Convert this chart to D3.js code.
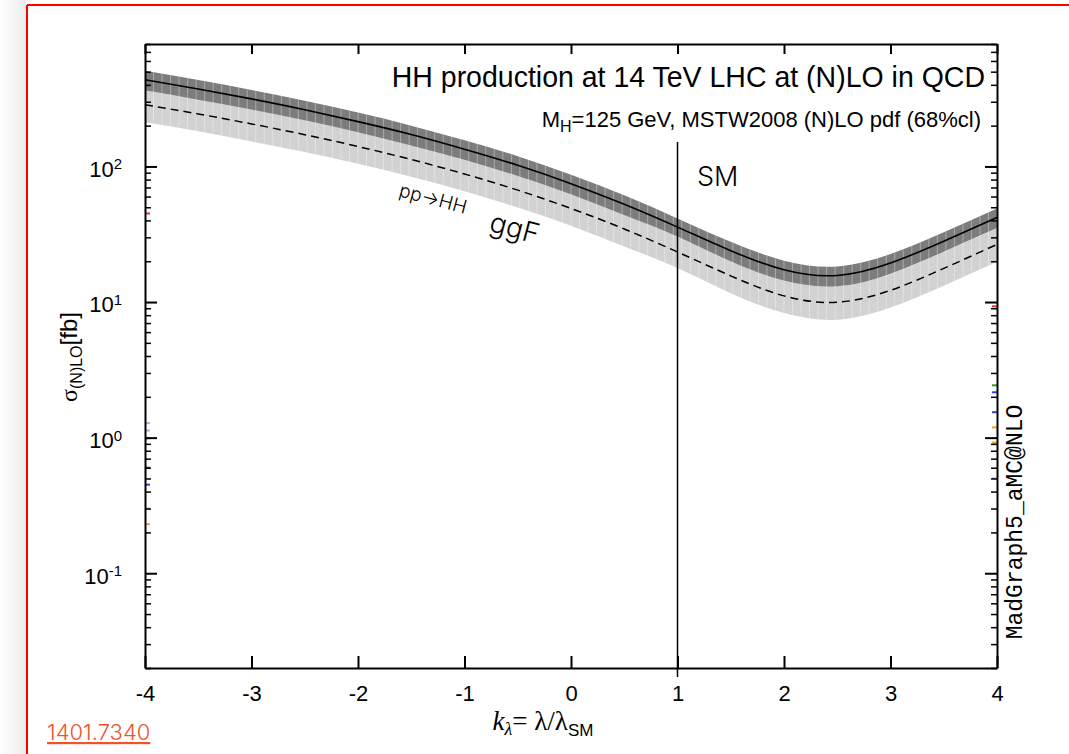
<!DOCTYPE html>
<html>
<head>
<meta charset="utf-8">
<script src="https://cdn.jsdelivr.net/npm/d3@7"></script>
<style>
  body { margin: 0; background: #fff; }
  svg { display: block; }
  .axis path, .axis line { stroke: #000; }
  .axis text { font-family: "Liberation Sans", Arial, sans-serif; fill: #000; }
  .gothic { font-family: "Inter", "Noto Sans", sans-serif; font-weight: 300; }
</style>
</head>
<body>
<div id="chart"></div>
<script>
// kappa_lambda sample points
const kappa = [-4, -3.5, -3, -2.5, -2, -1.5, -1, -0.5, 0, 0.5, 1, 1.5, 2, 2.5, 3, 3.5, 4];

// NLO (solid line, dark band) in fb
const nloCentral = [436, 373, 315, 262, 214, 172, 134, 102, 74.7, 52.6, 35.7, 23.9, 17.3, 15.7, 19.4, 28.1, 42.0];
const nloUp      = [508, 434, 367, 305, 250, 200, 156, 119, 87.0, 61.3, 41.4, 27.8, 20.2, 18.3, 22.6, 32.7, 48.9];
const nloDown    = [364, 311, 263, 219, 179, 143, 112, 85.1, 62.4, 43.9, 30.5, 20.0, 14.4, 13.1, 16.2, 23.5, 35.1];

// LO (dashed line, light band) in fb
const loCentral = [285, 244, 206, 171.5, 140.3, 112.5, 88.0, 66.9, 49.0, 34.6, 23.4, 15.6, 11.1, 9.97, 12.2, 17.7, 26.6];
const loUp      = [376, 322, 272, 226, 185, 148.5, 116, 88.0, 64.7, 45.6, 30.9, 20.6, 14.7, 13.2, 16.1, 23.4, 35.0];
const loDown    = [212, 182, 153, 128, 104.5, 83.8, 65.6, 49.8, 36.5, 25.7, 17.8, 11.6, 8.3, 7.4, 9.1, 13.2, 19.8];

// clipped pieces of other curves showing at the frame edges
const edgeSide  = ["L", "L", "L", "L", "L", "L", "L", "L", "R", "R", "R", "R", "R", "R", "R"];
const edgeValue = [45, 1.28, 1.13, 0.99, 0.60, 0.45, 0.30, 0.23, 9.3, 2.43, 2.16, 1.54, 1.19, 0.92, 0.50];
const edgeColor = ["#e33", "#c8a0e8", "#c8a0e8", "#2a9a3a", "#3040e0", "#3040e0", "#f0a020", "#f0a020",
                   "#e33", "#2a9a3a", "#3040e0", "#3040e0", "#f0a020", "#f0a020", "#c8a0e8"];

const xDomain = [-4, 4];
const yDomain = [0.02, 800];
const xTicks = [-4, -3, -2, -1, 0, 1, 2, 3, 4];
const yMajor = [0.1, 1, 10, 100];
const smKappa = 1;

const W = 1069, H = 754;
const plot = { left: 145, right: 997, top: 44, bottom: 668 };

const svg = d3.select("#chart").append("svg")
  .attr("width", W)
  .attr("height", H);

// page shadow and border
const defs = svg.append("defs");
const shade = defs.append("linearGradient").attr("id", "shade");
shade.append("stop").attr("offset", "0%").attr("stop-color", "#fff");
shade.append("stop").attr("offset", "100%").attr("stop-color", "#ececec");
svg.append("rect").attr("x", 0).attr("y", 0).attr("width", 26).attr("height", H).attr("fill", "url(#shade)");

svg.append("line").attr("x1", 27).attr("y1", 5).attr("x2", W).attr("y2", 5)
  .attr("stroke", "#f00").attr("stroke-width", 2);
svg.append("line").attr("x1", 27).attr("y1", 5).attr("x2", 27).attr("y2", H)
  .attr("stroke", "#f00").attr("stroke-width", 2);

const x = d3.scaleLinear().domain(xDomain).range([plot.left, plot.right]);
const y = d3.scaleLog().domain(yDomain).range([plot.bottom, plot.top]);

const rows = kappa.map((k, i) => ({
  k,
  nc: nloCentral[i], nu: nloUp[i], nd: nloDown[i],
  lc: loCentral[i], lu: loUp[i], ld: loDown[i]
}));

const curve = d3.curveNatural;

const loArea = d3.area().x(d => x(d.k)).y0(d => y(d.ld)).y1(d => y(d.lu)).curve(curve);
const nloArea = d3.area().x(d => x(d.k)).y0(d => y(d.nd)).y1(d => y(d.nu)).curve(curve);

// clip for the vertical bin stripes
const clip = defs.append("clipPath").attr("id", "bands");
clip.append("path").attr("d", loArea(rows));
clip.append("path").attr("d", nloArea(rows));

svg.append("path").attr("d", loArea(rows)).attr("fill", "#d2d2d2");
svg.append("path").attr("d", nloArea(rows)).attr("fill", "#7c7c7c");

// bin edges (0.08 wide bins)
svg.append("g")
  .attr("clip-path", "url(#bands)")
  .selectAll("line")
  .data(d3.range(xDomain[0], xDomain[1] + 1e-6, 0.08))
  .join("line")
  .attr("x1", d => x(d)).attr("x2", d => x(d))
  .attr("y1", plot.top).attr("y2", plot.bottom)
  .attr("stroke", "#fff")
  .attr("stroke-opacity", 0.35)
  .attr("stroke-width", 1);

// LO dashed
svg.append("path")
  .attr("d", d3.line().x(d => x(d.k)).y(d => y(d.lc)).curve(curve)(rows))
  .attr("fill", "none").attr("stroke", "#000").attr("stroke-width", 1.5)
  .attr("stroke-dasharray", "8,5");

// NLO solid
svg.append("path")
  .attr("d", d3.line().x(d => x(d.k)).y(d => y(d.nc)).curve(curve)(rows))
  .attr("fill", "none").attr("stroke", "#000").attr("stroke-width", 1.6);

// edge marks
svg.append("g").selectAll("line")
  .data(edgeValue)
  .join("line")
  .attr("x1", (d, i) => edgeSide[i] === "L" ? plot.left : plot.right)
  .attr("x2", (d, i) => edgeSide[i] === "L" ? plot.left + 5 : plot.right - 5)
  .attr("y1", d => y(d)).attr("y2", d => y(d))
  .attr("stroke", (d, i) => edgeColor[i])
  .attr("stroke-width", 2);

// SM line
svg.append("line")
  .attr("x1", x(smKappa)).attr("x2", x(smKappa))
  .attr("y1", 142).attr("y2", plot.bottom + 9)
  .attr("stroke", "#000").attr("stroke-width", 1.5);

// axes
const minor = y.ticks().filter(v => !yMajor.includes(v));

svg.append("g").attr("class", "axis")
  .attr("transform", `translate(0,${plot.bottom})`)
  .call(d3.axisBottom(x).tickValues(xTicks).tickSize(-12).tickPadding(17).tickSizeOuter(0)
    .tickFormat(d => String(d)))
  .call(g => g.selectAll("text").attr("font-size", 22))
  .call(g => g.selectAll("path,line").attr("stroke-width", 2));

svg.append("g").attr("class", "axis")
  .attr("transform", `translate(0,${plot.top})`)
  .call(d3.axisTop(x).tickValues(xTicks).tickSize(-10).tickSizeOuter(0).tickFormat(""))
  .call(g => g.selectAll("path,line").attr("stroke-width", 2));

const left = svg.append("g").attr("class", "axis")
  .attr("transform", `translate(${plot.left},0)`)
  .call(d3.axisLeft(y).tickValues(yMajor).tickSize(-12).tickPadding(23).tickSizeOuter(0))
  .call(g => g.selectAll("path,line").attr("stroke-width", 2));

left.selectAll(".tick text")
  .attr("font-size", 22)
  .attr("dy", "0.45em")
  .text("")
  .each(function (d) {
    const t = d3.select(this);
    t.append("tspan").text("10");
    t.append("tspan").attr("dy", "-0.5em").attr("font-size", 15).text(Math.round(Math.log10(d)));
  });

svg.append("g").attr("class", "axis")
  .attr("transform", `translate(${plot.left},0)`)
  .call(d3.axisLeft(y).tickValues(minor).tickSize(-6).tickSizeOuter(0).tickFormat(""))
  .call(g => g.select(".domain").remove())
  .call(g => g.selectAll("line").attr("stroke-width", 1.5));

svg.append("g").attr("class", "axis")
  .attr("transform", `translate(${plot.right},0)`)
  .call(d3.axisRight(y).tickValues(yMajor).tickSize(-12).tickSizeOuter(0).tickFormat(""))
  .call(g => g.selectAll("path,line").attr("stroke-width", 2));

svg.append("g").attr("class", "axis")
  .attr("transform", `translate(${plot.right},0)`)
  .call(d3.axisRight(y).tickValues(minor).tickSize(-6).tickSizeOuter(0).tickFormat(""))
  .call(g => g.select(".domain").remove())
  .call(g => g.selectAll("line").attr("stroke-width", 1.5));

// titles
svg.append("text")
  .attr("transform", "translate(985,87) scale(0.95,1)")
  .attr("text-anchor", "end")
  .attr("font-family", "Liberation Sans, Arial, sans-serif")
  .attr("font-size", 30)
  .text("HH production at 14 TeV LHC at (N)LO in QCD");

const sub = svg.append("text")
  .attr("x", 981).attr("y", 127)
  .attr("text-anchor", "end")
  .attr("font-family", "Liberation Sans, Arial, sans-serif")
  .attr("font-size", 22);
sub.append("tspan").text("M");
sub.append("tspan").attr("dy", 5).attr("font-size", 16).text("H");
sub.append("tspan").attr("dy", -5).text("=125 GeV, MSTW2008 (N)LO pdf (68%cl)");

// y label
const yl = svg.append("text")
  .attr("transform", "translate(77,357) rotate(-90)")
  .attr("text-anchor", "middle")
  .attr("font-family", "Liberation Sans, Arial, sans-serif")
  .attr("font-size", 24);
yl.append("tspan").attr("font-family", "Liberation Serif, serif").text("σ");
yl.append("tspan").attr("dy", 5).attr("font-size", 16).text("(N)LO");
yl.append("tspan").attr("dy", -5).text("[fb]");

// x label
const xl = svg.append("text")
  .attr("x", 543).attr("y", 730)
  .attr("text-anchor", "middle")
  .attr("font-family", "Liberation Serif, serif")
  .attr("font-size", 27);
xl.append("tspan").attr("font-style", "italic").text("k");
xl.append("tspan").attr("dy", 5).attr("font-size", 18).attr("font-style", "italic").text("λ");
xl.append("tspan").attr("dy", -5).text("= λ/λ");
xl.append("tspan").attr("dy", 6).attr("font-size", 17)
  .attr("font-family", "Liberation Sans, Arial, sans-serif").text("SM");

// annotations
svg.append("text").attr("class", "gothic")
  .attr("x", 697).attr("y", 186)
  .attr("font-size", 27)
  .text("SM");

svg.append("text").attr("class", "gothic")
  .attr("transform", "translate(398,196) rotate(15)")
  .attr("font-size", 19)
  .attr("font-weight", 400)
  .text("pp→HH");

svg.append("text").attr("class", "gothic")
  .attr("transform", "translate(488,231) rotate(15)")
  .attr("font-size", 28)
  .text("ggF");

svg.append("text")
  .attr("transform", "translate(1022,522) rotate(-90)")
  .attr("text-anchor", "middle")
  .attr("font-family", "Liberation Mono, monospace")
  .attr("font-size", 23)
  .text("MadGraph5_aMC@NLO");

svg.append("text").attr("class", "gothic")
  .attr("x", 47).attr("y", 740)
  .attr("font-size", 22)
  .attr("fill", "#f0522c")
  .attr("text-decoration", "underline")
  .text("1401.7340");
</script>
</body>
</html>
